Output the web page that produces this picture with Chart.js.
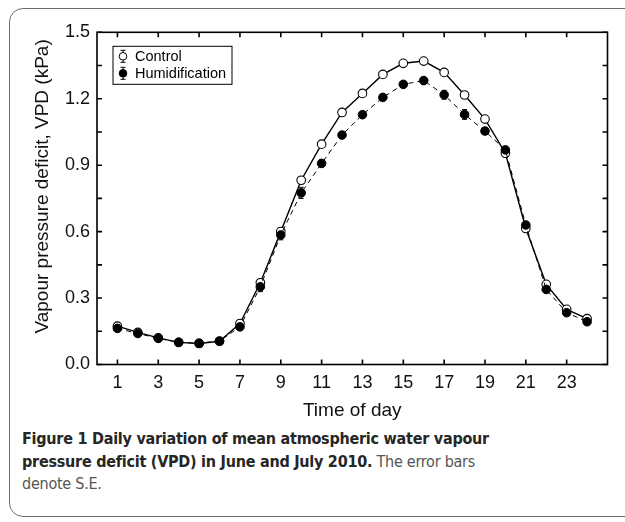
<!DOCTYPE html>
<html>
<head>
<meta charset="utf-8">
<script src="https://cdn.jsdelivr.net/npm/chart.js@4.4.1/dist/chart.umd.min.js"></script>
<style>
  html, body { margin: 0; padding: 0; background: #fff; }
  body { width: 625px; height: 522px; position: relative; overflow: hidden; }
  #frame {
    position: absolute; left: 9px; top: 8px; width: 650px; height: 509px;
    border: 1.5px solid #6e6e6e; border-radius: 14px; box-sizing: border-box;
  }
  #wrap { position: absolute; left: 0; top: 0; width: 625px; height: 425px; }
  #caption {
    position: absolute; left: 22px; top: 428px; width: 600px; white-space: nowrap;
    font-family: 'DejaVu Sans Condensed', 'Liberation Sans Narrow', 'Open Sans', sans-serif;
    font-size: 16px; letter-spacing: -0.25px; line-height: 22.5px; color: #555;
  }
  #caption b { color: #262626; }
</style>
</head>
<body>
<div id="frame"></div>
<div id="wrap"><canvas id="vpdChart" width="625" height="425"></canvas></div>
<div id="caption"><b>Figure 1 Daily variation of mean atmospheric water vapour<br>pressure deficit (VPD) in June and July 2010.</b> The error bars<br>denote S.E.</div>

<script>
// hours of the day
const hours = [1, 2, 3, 4, 5, 6, 7, 8, 9, 10, 11, 12, 13, 14, 15, 16, 17, 18, 19, 20, 21, 22, 23, 24];

// mean VPD (kPa)
const controlVpd = [0.173, 0.145, 0.120, 0.100, 0.095, 0.105, 0.185, 0.369, 0.600, 0.832, 0.995, 1.138,
  1.224, 1.310, 1.360, 1.370, 1.319, 1.217, 1.108, 0.954, 0.614, 0.362, 0.249, 0.207];
const humidVpd = [0.163, 0.140, 0.118, 0.100, 0.096, 0.106, 0.170, 0.351, 0.585, 0.775, 0.908, 1.036,
  1.128, 1.206, 1.265, 1.282, 1.218, 1.129, 1.054, 0.969, 0.630, 0.339, 0.234, 0.193];

// standard errors (small, estimated)
const controlSe = [0.010, 0.008, 0.008, 0.007, 0.007, 0.008, 0.010, 0.015, 0.018, 0.015, 0.012, 0.012,
  0.012, 0.012, 0.012, 0.012, 0.012, 0.012, 0.012, 0.012, 0.012, 0.012, 0.010, 0.010];
const humidSe = [0.010, 0.008, 0.008, 0.007, 0.007, 0.008, 0.012, 0.022, 0.022, 0.025, 0.015, 0.012,
  0.012, 0.012, 0.012, 0.015, 0.020, 0.022, 0.015, 0.012, 0.012, 0.015, 0.010, 0.010];

// axis ticks
const xTicks = [1, 3, 5, 7, 9, 11, 13, 15, 17, 19, 21, 23];
const yTicks = [0, 0.3, 0.6, 0.9, 1.2, 1.5];
const yMinorTicks = [0, 0.15, 0.3, 0.45, 0.6, 0.75, 0.9, 1.05, 1.2, 1.35, 1.5];

const FONT = "'Liberation Sans', Arial, sans-serif";
const Y_TITLE = 'Vapour pressure deficit, VPD (kPa)';

const toPoints = (ys) => hours.map((h, i) => ({ x: h, y: ys[i] }));

// error bars, drawn under the markers
const errorBarsPlugin = {
  id: 'errorBars',
  beforeDatasetsDraw(chart) {
    const { ctx, scales: { x, y } } = chart;
    const sets = [[controlVpd, controlSe], [humidVpd, humidSe]];
    ctx.save();
    ctx.strokeStyle = '#000';
    ctx.lineWidth = 1;
    sets.forEach(([vals, se]) => {
      hours.forEach((h, i) => {
        const px = x.getPixelForValue(h);
        const top = y.getPixelForValue(vals[i] + se[i]);
        const bot = y.getPixelForValue(vals[i] - se[i]);
        ctx.beginPath();
        ctx.moveTo(px, top); ctx.lineTo(px, bot);
        ctx.moveTo(px - 2.5, top); ctx.lineTo(px + 2.5, top);
        ctx.moveTo(px - 2.5, bot); ctx.lineTo(px + 2.5, bot);
        ctx.stroke();
      });
    });
    ctx.restore();
  },
};

// closed frame with inward ticks on all four sides, plus the y title
const frameTicksPlugin = {
  id: 'frameTicks',
  afterDraw(chart) {
    const { ctx, chartArea: a, scales: { x, y } } = chart;
    const len = 5;
    ctx.save();
    ctx.strokeStyle = '#000';
    ctx.lineWidth = 1.6;
    ctx.strokeRect(a.left, a.top, a.right - a.left, a.bottom - a.top);
    ctx.beginPath();
    xTicks.forEach((v) => {
      const px = x.getPixelForValue(v);
      ctx.moveTo(px, a.bottom); ctx.lineTo(px, a.bottom - len);
      ctx.moveTo(px, a.top); ctx.lineTo(px, a.top + len);
    });
    yMinorTicks.forEach((v) => {
      const py = y.getPixelForValue(v);
      ctx.moveTo(a.left, py); ctx.lineTo(a.left + len, py);
      ctx.moveTo(a.right, py); ctx.lineTo(a.right - len, py);
    });
    ctx.stroke();

    // y axis title, a bit above the plot centre as in the original
    ctx.translate(43, (a.top + a.bottom) / 2 - 12);
    ctx.rotate(-Math.PI / 2);
    ctx.font = '19px ' + FONT;
    ctx.fillStyle = '#111';
    ctx.textAlign = 'center';
    ctx.textBaseline = 'middle';
    ctx.fillText(Y_TITLE, 0, 0);
    ctx.restore();
  },
};

// boxed legend with marker + error bar glyphs
const boxLegendPlugin = {
  id: 'boxLegend',
  afterDraw(chart) {
    const { ctx, chartArea: a } = chart;
    const bx = a.left + 16, by = a.top + 14, bw = 119, bh = 38;
    ctx.save();
    ctx.strokeStyle = '#000';
    ctx.lineWidth = 1;
    ctx.strokeRect(bx, by, bw, bh);
    const items = [
      { label: 'Control', fill: '#fff' },
      { label: 'Humidification', fill: '#000' },
    ];
    ctx.font = '14.5px ' + FONT;
    ctx.textBaseline = 'middle';
    items.forEach((it, i) => {
      const cx = bx + 10, cy = by + 10 + i * 17;
      ctx.beginPath();
      ctx.moveTo(cx, cy - 6); ctx.lineTo(cx, cy + 6);
      ctx.moveTo(cx - 2.5, cy - 6); ctx.lineTo(cx + 2.5, cy - 6);
      ctx.moveTo(cx - 2.5, cy + 6); ctx.lineTo(cx + 2.5, cy + 6);
      ctx.stroke();
      ctx.beginPath();
      ctx.arc(cx, cy, 3.8, 0, Math.PI * 2);
      ctx.fillStyle = it.fill;
      ctx.fill();
      ctx.stroke();
      ctx.fillStyle = '#000';
      ctx.fillText(it.label, bx + 22, cy + 1);
    });
    ctx.restore();
  },
};

const vpdData = {
  datasets: [
    {
      label: 'Control',
      data: toPoints(controlVpd),
      borderColor: '#000',
      borderWidth: 1.4,
      pointRadius: 4.3,
      pointBorderWidth: 1.1,
      pointBackgroundColor: '#fff',
      pointBorderColor: '#000',
      order: 1,
    },
    {
      label: 'Humidification',
      data: toPoints(humidVpd),
      borderColor: '#000',
      borderWidth: 1,
      borderDash: [5, 4],
      pointRadius: 4.3,
      pointBorderWidth: 1,
      pointBackgroundColor: '#000',
      pointBorderColor: '#000',
      order: 0,
    },
  ],
};

const vpdConfig = {
  type: 'line',
  data: vpdData,
  options: {
    responsive: false,
    animation: false,
    layout: { padding: { left: 0, right: 17.5, top: 32.3, bottom: 0 } },
    plugins: {
      legend: { display: false },
      tooltip: { enabled: false },
    },
    scales: {
      x: {
        type: 'linear',
        min: 0,
        max: 25,
        afterBuildTicks: (s) => { s.ticks = xTicks.map((v) => ({ value: v })); },
        afterFit: (s) => { s.height = 425 - 364.5; },
        grid: { display: false, drawTicks: false },
        border: { display: false },
        ticks: {
          autoSkip: false,
          maxRotation: 0,
          padding: 8,
          color: '#111',
          font: { family: FONT, size: 18 },
        },
        title: {
          display: true,
          text: 'Time of day',
          color: '#111',
          font: { family: FONT, size: 19 },
          padding: { top: 0, bottom: 3 },
        },
      },
      y: {
        min: 0,
        max: 1.5,
        afterBuildTicks: (s) => { s.ticks = yTicks.map((v) => ({ value: v })); },
        afterFit: (s) => { s.width = 97; },
        grid: { display: false, drawTicks: false },
        border: { display: false },
        ticks: {
          padding: 7,
          color: '#111',
          font: { family: FONT, size: 18 },
          callback: (v) => v.toFixed(1),
        },
      },
    },
  },
  plugins: [errorBarsPlugin, frameTicksPlugin, boxLegendPlugin],
};

const vpdChart = new Chart(document.getElementById('vpdChart'), vpdConfig);
</script>
</body>
</html>
